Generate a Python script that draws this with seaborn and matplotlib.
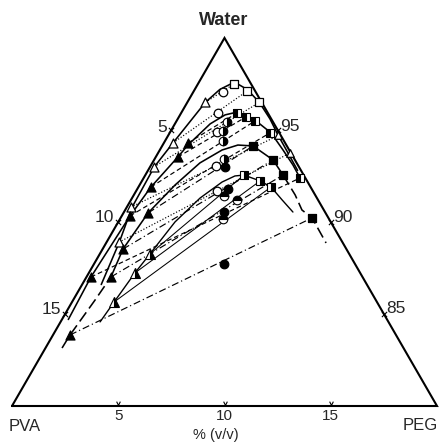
import numpy as np
import pandas as pd
import matplotlib
matplotlib.use("Agg")
import matplotlib.pyplot as plt
from matplotlib.path import Path
import seaborn as sns

# Compositions, % (v/v).
# Each point is PEG %, water %  (PVA = 100 - PEG - water)

# system 1: open symbols, dotted tie lines
s1_curve_peg = [0.9, 0.6, 0.25, 0.2, 0.43, 0.85, 1.18, 1.67, 2.47, 3.39, 4.34, 5.18, 6.26, 7.04]
s1_curve_water = [86.6, 88.9, 90.8, 93.0, 94.3, 96.5, 97.2, 97.6, 97.2, 96.5, 95.6, 94.7, 93.6, 92.8]
s1_pva_peg = [0.85, 0.43, 0.19, 0.19, 0.58]
s1_pva_water = [96.5, 94.3, 93.0, 90.8, 88.9]
s1_peg_peg = [1.70, 2.50, 3.39, 5.18, 6.21]
s1_peg_water = [97.5, 97.1, 96.5, 94.7, 93.75]
s1_mix_peg = [1.40, 1.73, 2.20, 3.08, 3.81]
s1_mix_water = [97.07, 95.92, 94.89, 93.04, 91.68]

# system 2: filled triangles, half squares, dashed tie lines
s2_curve_peg = [0.3, 0.21, 0.39, 0.59, 1.04, 1.19, 1.66, 2.12, 2.64, 3.18, 3.74, 4.77, 5.80, 6.67, 7.36]
s2_curve_water = [84.7, 87.01, 90.33, 91.90, 93.53, 94.18, 95.33, 95.82, 95.98, 95.76, 95.49, 94.84, 93.91, 93.10, 92.39]
s2_pva_peg = [1.13, 1.04, 0.59, 0.39, 0.21]
s2_pva_water = [94.29, 93.53, 91.90, 90.33, 87.01]
s2_peg_peg = [2.63, 3.16, 3.69, 4.72, 7.36]
s2_peg_water = [95.92, 95.71, 95.49, 94.84, 92.39]
s2_mix_peg = [2.40, 2.46, 2.73, 3.27]
s2_mix_water = [95.43, 94.95, 94.40, 93.42]

# system 3: filled symbols, dash-dot tie lines
s3_curve_peg = [1.15, 0.96, 1.16, 1.67, 2.24, 2.93, 3.54, 4.28, 5.60, 6.48]
s3_curve_water = [87.01, 88.53, 90.49, 92.01, 93.21, 93.91, 94.18, 94.13, 93.37, 92.55]
s3_low_peg = [0.78, 0.80, 1.03, 1.15]
s3_low_water = [83.15, 83.86, 85.76, 87.01]
s3_high_peg = [6.48, 7.59, 8.32, 9.01, 10.35]
s3_high_water = [92.55, 91.47, 90.65, 90.22, 88.86]
s3_pva_peg = [1.16, 0.96, 1.15, 0.80]
s3_pva_water = [90.49, 88.53, 87.01, 83.86]
s3_peg_peg = [4.28, 5.60, 6.48, 9.01]
s3_peg_water = [94.13, 93.37, 92.55, 90.22]
s3_mix_peg = [3.53, 4.27, 4.71, 6.12]
s3_mix_water = [92.99, 91.79, 90.54, 87.72]

# system 4: half symbols, thin solid tie lines
s4_curve_peg = [1.86, 1.98, 2.17, 2.36, 2.67, 3.20, 3.80, 4.24, 4.64, 5.56, 6.24, 7.11, 7.95]
s4_curve_water = [84.57, 85.65, 87.23, 88.26, 90.00, 91.30, 92.17, 92.50, 92.55, 92.23, 91.90, 91.20, 90.54]
s4_pva_peg = [2.36, 2.17, 1.98]
s4_pva_water = [88.26, 87.23, 85.65]
s4_peg_peg = [4.64, 5.56, 6.24]
s4_peg_water = [92.55, 92.23, 91.90]
s4_mix_peg = [4.27, 4.99, 4.85]
s4_mix_water = [91.41, 91.20, 90.16]

tick_values = [5, 10, 15]


def tern(peg, water):
    """PEG %, water % -> cartesian position in the zoomed triangle"""
    w = np.asarray(water, float) - 80.0
    return np.asarray(peg, float) + w / 2, w * np.sqrt(3) / 2


def curve(ax, peg, water, ls="-", lw=1.15):
    x, y = tern(peg, water)
    sns.lineplot(x=x, y=y, sort=False, estimator=None, color="black",
                 linestyle=ls, lw=lw, ax=ax)


def tie_lines(ax, pva_peg, pva_water, peg_peg, peg_water, ls, lw=0.85):
    x1, y1 = tern(pva_peg, pva_water)
    x2, y2 = tern(peg_peg, peg_water)
    rows = []
    for i in range(len(x1)):
        rows.append({"tie": i, "x": x1[i], "y": y1[i]})
        rows.append({"tie": i, "x": x2[i], "y": y2[i]})
    df = pd.DataFrame(rows)
    sns.lineplot(data=df, x="x", y="y", units="tie", estimator=None, sort=False,
                 color="black", linestyle=ls, lw=lw, legend=False, ax=ax)


def points(ax, peg, water, marker, filled, s=38):
    x, y = tern(peg, water)
    sns.scatterplot(x=x, y=y, marker=marker, s=s,
                    color="black" if filled else "white",
                    edgecolor="black", linewidth=0.9, zorder=5, ax=ax)


def half_points(ax, peg, water, marker, side, ms=6.2):
    x, y = tern(peg, water)
    ax.plot(x, y, ls="none", marker=marker, ms=ms, fillstyle=side,
            markerfacecolor="black", markerfacecoloralt="white",
            markeredgecolor="black", markeredgewidth=0.8, zorder=6)


sns.set_style("white")
plt.rcParams["font.family"] = ["Liberation Sans", "DejaVu Sans"]

fig = plt.figure(figsize=(4.4, 4.42), dpi=100)
ax = fig.add_axes([0, 0, 1, 1])

# triangle frame
fx, fy = tern([0, 20, 0, 0], [80, 80, 100, 80])
ax.plot(fx, fy, color="black", lw=1.5, solid_joinstyle="miter")

# binodal curves
curve(ax, s1_curve_peg, s1_curve_water)
curve(ax, s2_curve_peg, s2_curve_water)
curve(ax, s3_curve_peg, s3_curve_water)
curve(ax, s3_low_peg, s3_low_water, ls=(0, (7, 3)))
curve(ax, s3_high_peg, s3_high_water, ls=(0, (7, 3)))
curve(ax, s4_curve_peg, s4_curve_water, lw=1.0)

# tie lines
tie_lines(ax, s1_pva_peg, s1_pva_water, s1_peg_peg, s1_peg_water, (0, (1, 1.6)))
tie_lines(ax, s2_pva_peg, s2_pva_water, s2_peg_peg, s2_peg_water, (0, (4, 2.5)))
tie_lines(ax, s3_pva_peg, s3_pva_water, s3_peg_peg, s3_peg_water, (0, (6, 2.5, 1, 2.5)))
tie_lines(ax, s4_pva_peg, s4_pva_water, s4_peg_peg, s4_peg_water, "-", lw=0.75)

# symbols
points(ax, s1_pva_peg, s1_pva_water, "^", False, s=42)
points(ax, s1_peg_peg[:3], s1_peg_water[:3], "s", False)
points(ax, s1_peg_peg[3:], s1_peg_water[3:], "^", False, s=30)
points(ax, s1_mix_peg, s1_mix_water, "o", False)
points(ax, s2_pva_peg, s2_pva_water, "^", True, s=42)
half_points(ax, s2_peg_peg, s2_peg_water, "s", "left")
half_points(ax, s2_mix_peg, s2_mix_water, "o", "right")
points(ax, s3_pva_peg, s3_pva_water, "^", True, s=42)
points(ax, s3_peg_peg, s3_peg_water, "s", True)
points(ax, s3_mix_peg, s3_mix_water, "o", True)
half_points(ax, s4_pva_peg, s4_pva_water, "^", "right", ms=7)
half_points(ax, s4_peg_peg, s4_peg_water, "s", "right")
half_points(ax, s4_mix_peg, s4_mix_water, "o", "top")

# axis ticks and labels
tv = np.array(tick_values, float)
bx, by = tern(tv, 80 + 0 * tv)            # bottom: PEG %
lx, ly = tern(0 * tv, 100 - tv)           # left: PVA %
rx, ry = tern(tv, 100 - tv)               # right: water %
# small "v" marks sitting on the inside of the base line
vee = Path([(-1.0, 2.6), (0.0, 0.6), (1.0, 2.6)], [Path.MOVETO, Path.LINETO, Path.LINETO])
ax.plot(bx, by, ls="none", marker=vee, ms=7, mfc="none", mec="black", mew=0.8, zorder=4)
for xs, ys in [(lx, ly), (rx, ry)]:
    ax.scatter(xs, ys, marker="x", s=14, color="black", linewidths=0.8, zorder=4)

for v, x, y in zip(tick_values, bx, by):
    ax.annotate(str(v), (x, y), xytext=(0, -2), textcoords="offset points",
                ha="center", va="top", fontsize=11)
for v, x, y, dy in zip(tick_values, lx, ly, [1.5, 3, 3]):
    ax.annotate(str(v), (x, y), xytext=(-3, dy), textcoords="offset points",
                ha="right", va="center", fontsize=12.5)
for v, x, y, dy in zip(tick_values, rx, ry, [2.5, 3.5, 4]):
    ax.annotate(str(100 - v), (x, y), xytext=(2, dy), textcoords="offset points",
                ha="left", va="center", fontsize=12.5)

ax.text(9.95, 18.12, "Water", ha="center", va="center", fontsize=13, fontweight="bold")
ax.text(0.6, -0.95, "PVA", ha="center", va="center", fontsize=12)
ax.text(19.2, -0.92, "PEG", ha="center", va="center", fontsize=12)
ax.text(9.6, -1.38, "% (v/v)", ha="center", va="center", fontsize=10.5)

ax.set_xlim(-12 / 21.25, 428 / 21.25)
ax.set_ylim(-36 / 21.25, 406 / 21.25)
ax.axis("off")

fig.savefig("out.png", dpi=100)
